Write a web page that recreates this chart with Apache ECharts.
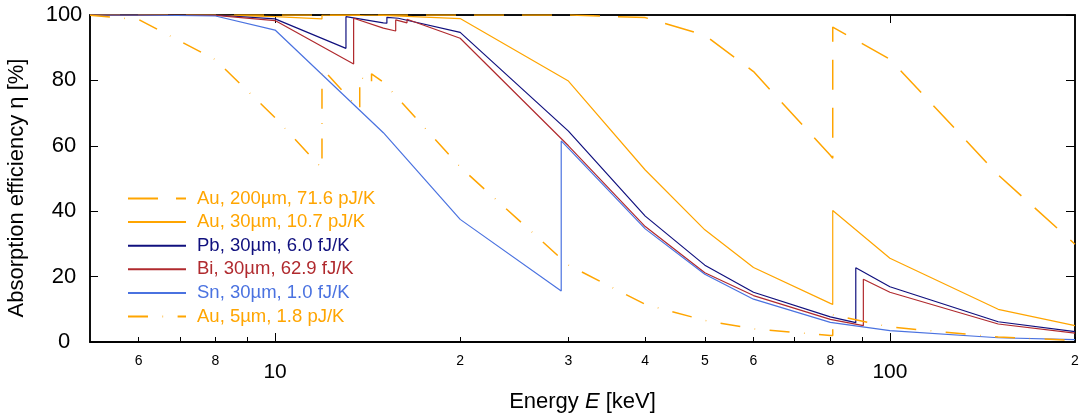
<!DOCTYPE html>
<html><head><meta charset="utf-8">
<script src="https://cdn.jsdelivr.net/npm/echarts@6/dist/echarts.min.js"></script>
<style>html,body{margin:0;padding:0;background:#fff}#c{width:1079px;height:419px}</style>
</head><body><div id="c"></div>
<script>
// ---- axis ticks / labels ----
const xMin = 5, xMax = 200;
const minorTickE = [6, 7, 8, 9, 20, 30, 40, 50, 60, 70, 80, 90, 200];
const minorLabelE = [6, 8, 20, 30, 40, 50, 60, 80, 200];
const majorE = [10, 100];

// ---- series data: energy [keV] and absorption efficiency [%] ----
const au200E = [5, 6, 8, 10, 15, 20, 30, 40, 50, 60, 80, 80.72, 80.72, 100, 150, 200];
const au200V = [100, 100, 100, 100, 100, 100, 100, 99.2, 93.8, 82.7, 57.1, 56.2, 96.3, 86.5, 51.1, 29.9];

const au30E = [5, 6, 8, 10, 11.92, 11.92, 13.73, 13.73, 14.35, 14.35, 15, 20, 30, 40, 50, 60, 80, 80.72, 80.72, 100, 150, 200];
const au30V = [100, 100, 100, 99.5, 98.8, 100, 99.9, 100, 100, 100, 99.9, 98.9, 79.8, 52.6, 34.3, 22.8, 11.8, 11.5, 40.2, 25.6, 10.0, 5.0];

const pbE = [5, 6, 8, 10, 13.04, 13.04, 15, 15.2, 15.2, 15.86, 15.86, 20, 30, 40, 50, 60, 80, 88.0, 88.0, 100, 150, 200];
const pbV = [100, 100, 100, 98.8, 89.8, 99.5, 97.6, 97.5, 99.3, 99.0, 99.6, 94.7, 64.5, 38.5, 23.5, 15.2, 7.7, 5.9, 22.7, 16.9, 6.2, 3.2];

const biE = [5, 6, 8, 10, 13.42, 13.42, 15, 15.71, 15.71, 16.39, 16.39, 20, 30, 40, 50, 60, 80, 90.53, 90.53, 100, 150, 200];
const biV = [100, 100, 99.9, 98.3, 85.0, 99.0, 96.0, 95.1, 98.5, 97.6, 98.7, 92.9, 60.0, 35.3, 21.2, 14.2, 6.9, 5.0, 19.2, 15.2, 5.5, 2.7];

const snE = [5, 6, 8, 10, 15, 20, 29.2, 29.2, 30, 40, 50, 60, 80, 100, 150, 200];
const snV = [100, 100, 99.7, 95.4, 64.0, 37.5, 15.6, 61.5, 59.2, 34.6, 20.7, 13.1, 6.0, 3.5, 1.3, 0.7];

const au5E = [5, 6, 8, 10, 11.92, 11.92, 13.73, 13.73, 14.35, 14.35, 15, 20, 30, 40, 50, 60, 80, 80.72, 80.72, 100, 150, 200];
const au5V = [99.9, 98.6, 86.3, 68.6, 53.1, 83.7, 71.0, 81.3, 78.6, 82.0, 79.5, 53.5, 23.5, 11.5, 6.6, 4.0, 2.0, 2.0, 8.3, 4.6, 1.5, 0.5];

const seriesNames = [
  'Au, 200\u00b5m, 71.6 pJ/K',
  'Au, 30\u00b5m, 10.7 pJ/K',
  'Pb, 30\u00b5m, 6.0 fJ/K',
  'Bi, 30\u00b5m, 62.9 fJ/K',
  'Sn, 30\u00b5m, 1.0 fJ/K',
  'Au, 5\u00b5m, 1.8 pJ/K'
];

// ---- styles ----
const FONT = '"Liberation Sans", Arial, Helvetica, sans-serif';
const ORANGE = '#ffa500', NAVY = '#10107e', RED = '#b02a2e', BLUE = '#4a72e0';
const colors = [ORANGE, ORANGE, NAVY, RED, BLUE, ORANGE];
const widths = [1.5, 1.2, 1.2, 1.2, 1.2, 1.5];
const dashes = [[30, 18], 'solid', 'solid', 'solid', 'solid', [20, 14.5, 0.6, 14.5]];
const allE = [au200E, au30E, pbE, biE, snE, au5E];
const allV = [au200V, au30V, pbV, biV, snV, au5V];

const zip = (e, v) => e.map((x, i) => [x, v[i]]);

const chart = echarts.init(document.getElementById('c'), null, {renderer: 'canvas'});

const baseX = {
  type: 'log', logBase: 10, min: xMin, max: xMax, gridIndex: 0,
  splitLine: {show: false}, minorSplitLine: {show: false},
  axisLine: {show: true, onZero: false, lineStyle: {color: '#000', width: 1.5}}
};

chart.setOption({
  animation: false,
  backgroundColor: '#fff',
  grid: {left: 90, right: 4, top: 15, bottom: 77, show: true, borderColor: '#000', borderWidth: 1.5,
         containLabel: false, outerBoundsMode: 'none'},
  legend: {
    orient: 'vertical', left: 122, top: 184,
    itemWidth: 58, itemHeight: 14, itemGap: 4.6,
    itemStyle: {opacity: 0},
    textStyle: {fontSize: 18.5, lineHeight: 18, fontFamily: FONT, padding: [0, 0, 0, 6]},
    data: seriesNames.map((n, i) => ({name: n, textStyle: {color: colors[i]}}))
  },
  xAxis: [
    Object.assign({}, baseX, {
      position: 'bottom',
      axisTick: {show: true, inside: true, length: 5, customValues: minorTickE, lineStyle: {color: '#000', width: 1}},
      axisLabel: {show: true, customValues: minorLabelE, margin: 12, fontSize: 14, color: '#000', fontFamily: FONT,
                  formatter: v => String(Math.round(v)).charAt(0)},
      name: '{n|Energy }{i|E}{n| [keV]}', nameLocation: 'middle', nameGap: 49,
      nameTextStyle: {rich: {
        n: {fontSize: 22, fontFamily: FONT, color: '#000'},
        i: {fontSize: 22, fontFamily: FONT, fontStyle: 'italic', color: '#000'}
      }}
    }),
    Object.assign({}, baseX, {
      position: 'bottom',
      axisTick: {show: true, inside: true, length: 9, customValues: majorE, lineStyle: {color: '#000', width: 1}},
      axisLabel: {show: true, customValues: majorE, margin: 20, fontSize: 21, color: '#000', fontFamily: FONT,
                  formatter: v => String(Math.round(v))}
    }),
    Object.assign({}, baseX, {
      position: 'top',
      axisTick: {show: true, inside: true, length: 8, customValues: majorE, lineStyle: {color: '#000', width: 1}},
      axisLabel: {show: false}
    })
  ],
  yAxis: [
    {
      type: 'value', min: 0, max: 100, interval: 20, position: 'left',
      splitLine: {show: false},
      axisLine: {show: true, onZero: false, lineStyle: {color: '#000', width: 1.5}},
      axisTick: {show: true, inside: true, length: 8, lineStyle: {color: '#000', width: 1}},
      axisLabel: {margin: 26, align: 'center', fontSize: 22, color: '#000', fontFamily: FONT},
      name: 'Absorption efficiency \u03b7 [%]', nameLocation: 'middle', nameRotate: 90, nameGap: 62,
      nameTextStyle: {fontSize: 22, fontFamily: FONT, color: '#000', padding: [0, 19, 0, 0]}
    },
    {
      type: 'value', min: 0, max: 100, interval: 20, position: 'right',
      splitLine: {show: false},
      axisLine: {show: true, onZero: false, lineStyle: {color: '#000', width: 1.5}},
      axisTick: {show: true, inside: true, length: 9, lineStyle: {color: '#000', width: 1}},
      axisLabel: {show: false}
    }
  ],
  series: seriesNames.map((n, i) => ({
    name: n, type: 'line', xAxisIndex: 0, yAxisIndex: 0,
    data: zip(allE[i], allV[i]),
    symbol: 'none', showSymbol: false, smooth: false, clip: true,
    color: colors[i],
    lineStyle: {color: colors[i], width: widths[i], type: dashes[i]},
    z: 2 + i
  }))
});
</script></body></html>
